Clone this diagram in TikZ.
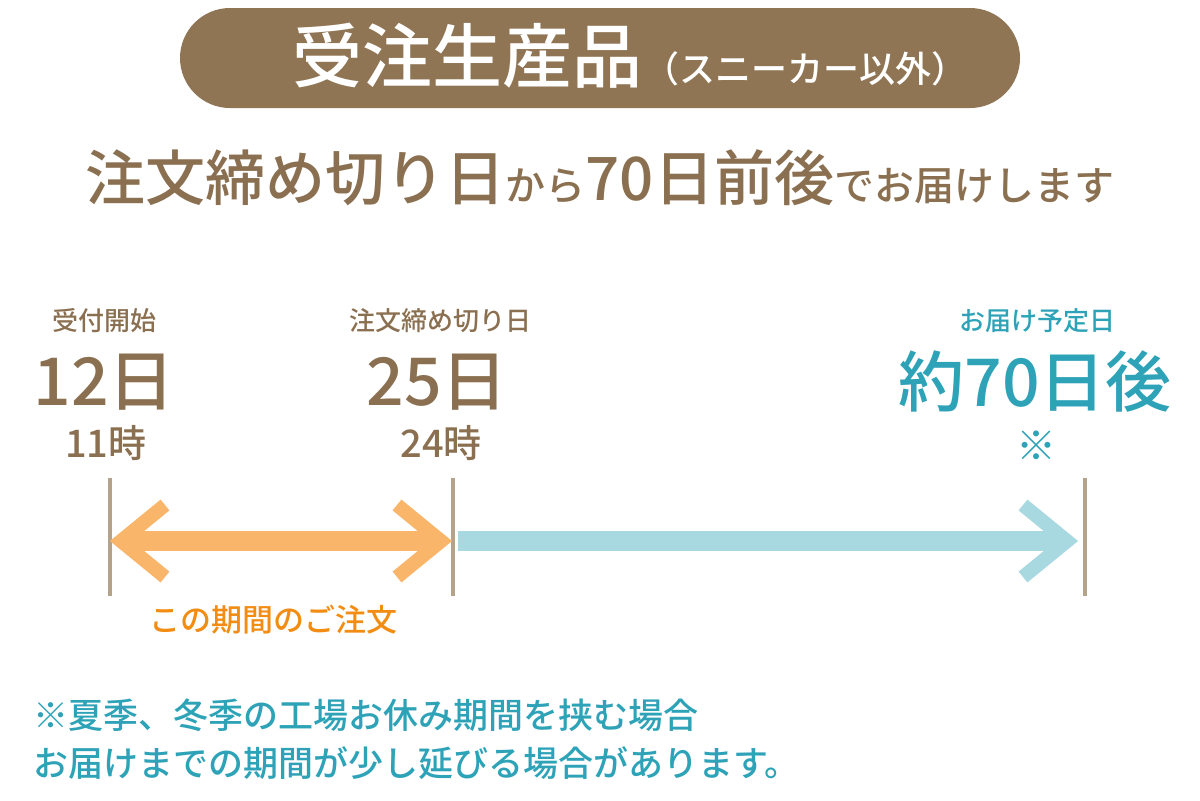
\documentclass[tikz,border=0pt]{standalone}
\usepackage{fontspec}
\usepackage{tikz}
\newfontfamily\jp{Noto Sans CJK JP Medium}
\definecolor{bannerbg}{HTML}{8F7554}
\definecolor{txtbrown}{HTML}{8A7050}
\definecolor{txtblue}{HTML}{2EA3B8}
\definecolor{txtorange}{HTML}{F28C12}
\definecolor{arrowor}{HTML}{F9B66B}
\definecolor{arrowbl}{HTML}{A8D9E0}
\definecolor{tickcol}{HTML}{B5A28A}
\newcommand{\lgfont}{\fontsize{30}{34}\selectfont}
\newcommand{\smfont}{\fontsize{20}{24}\selectfont}

\begin{document}
\begin{tikzpicture}[x=0.5pt,y=-0.5pt,
	lbl/.style={font=\jp\fontsize{13}{15}\selectfont},
	bignum/.style={font=\jp\fontsize{33}{36}\selectfont},
	hour/.style={font=\jp\fontsize{19}{21}\selectfont, text=txtbrown},
	tickline/.style={draw=tickcol, line width=2pt},
	orhead/.style={draw=arrowor, line width=7pt},
	blhead/.style={draw=arrowbl, line width=7pt}]
\useasboundingbox (0,0) rectangle (1200,800);

% banner
\node [fill=bannerbg, rounded corners=25pt, minimum width=420pt, minimum height=50pt] (banner) at (600,58) {};
\node [anchor=base west, text=white, font=\jp\fontsize{35}{38}\selectfont, inner sep=0pt] (title) at (292,82) {受注生産品};
\node [anchor=base west, text=white, font=\jp\fontsize{18}{20}\selectfont, inner sep=0pt] (subtitle) at (title.base east) {（スニーカー以外）};

% main line
\node [anchor=base, text=txtbrown, font=\jp, inner sep=0pt] (lead) at (600,200)
	{{\lgfont 注文締め切り日}{\smfont から}{\lgfont 70日前後}{\smfont でお届けします}};

% labels
\node [lbl, text=txtbrown] (startlbl) at (105,321) {受付開始};
\node [bignum, text=txtbrown] (startday) at (104,382) {12日};
\node [hour] (starthour) at (106,443) {11時};

\node [lbl, text=txtbrown] (closelbl) at (440,321) {注文締め切り日};
\node [bignum, text=txtbrown] (closeday) at (437,382) {25日};
\node [hour] (closehour) at (441,443) {24時};

\node [lbl, text=txtblue] (delivlbl) at (1037,321) {お届け予定日};
\node [bignum, text=txtblue] (delivday) at (1035,381) {約70日後};
\node [text=txtblue, font=\jp\fontsize{20}{22}\selectfont] (delivnote) at (1036,446) {※};

% ticks
\draw [tickline] (110,478) -- (110,596);
\draw [tickline] (453,478) -- (453,596);
\draw [tickline] (1085,478) -- (1085,596);

% arrows
\coordinate (ordstart) at (121,541);
\coordinate (ordend) at (441,541);
\coordinate (delstart) at (458,541);
\coordinate (delend) at (1067,541);
\draw [draw=arrowor, line width=10pt, shorten <=2.5pt, shorten >=2.5pt] (ordstart) -- (ordend);
\draw [orhead] (ordstart) ++(44,-36) -- (ordstart) -- ++(44,36);
\draw [orhead] (ordend) ++(-44,-36) -- (ordend) -- ++(-44,36);
\draw [draw=arrowbl, line width=10pt, shorten >=2.5pt] (delstart) -- (delend);
\draw [blhead] (delend) ++(-44,-36) -- (delend) -- ++(-44,36);

\node [text=txtorange, font=\jp\fontsize{15.5}{18}\selectfont] (period) at (273,620) {この期間のご注文};

% note
\node [anchor=north west, align=left, text=txtblue, font=\jp\fontsize{17.5}{24}\selectfont, inner sep=0pt] (note) at (33,698)
	{※夏季、冬季の工場お休み期間を挟む場合\\お届けまでの期間が少し延びる場合があります。};
\end{tikzpicture}
\end{document}
